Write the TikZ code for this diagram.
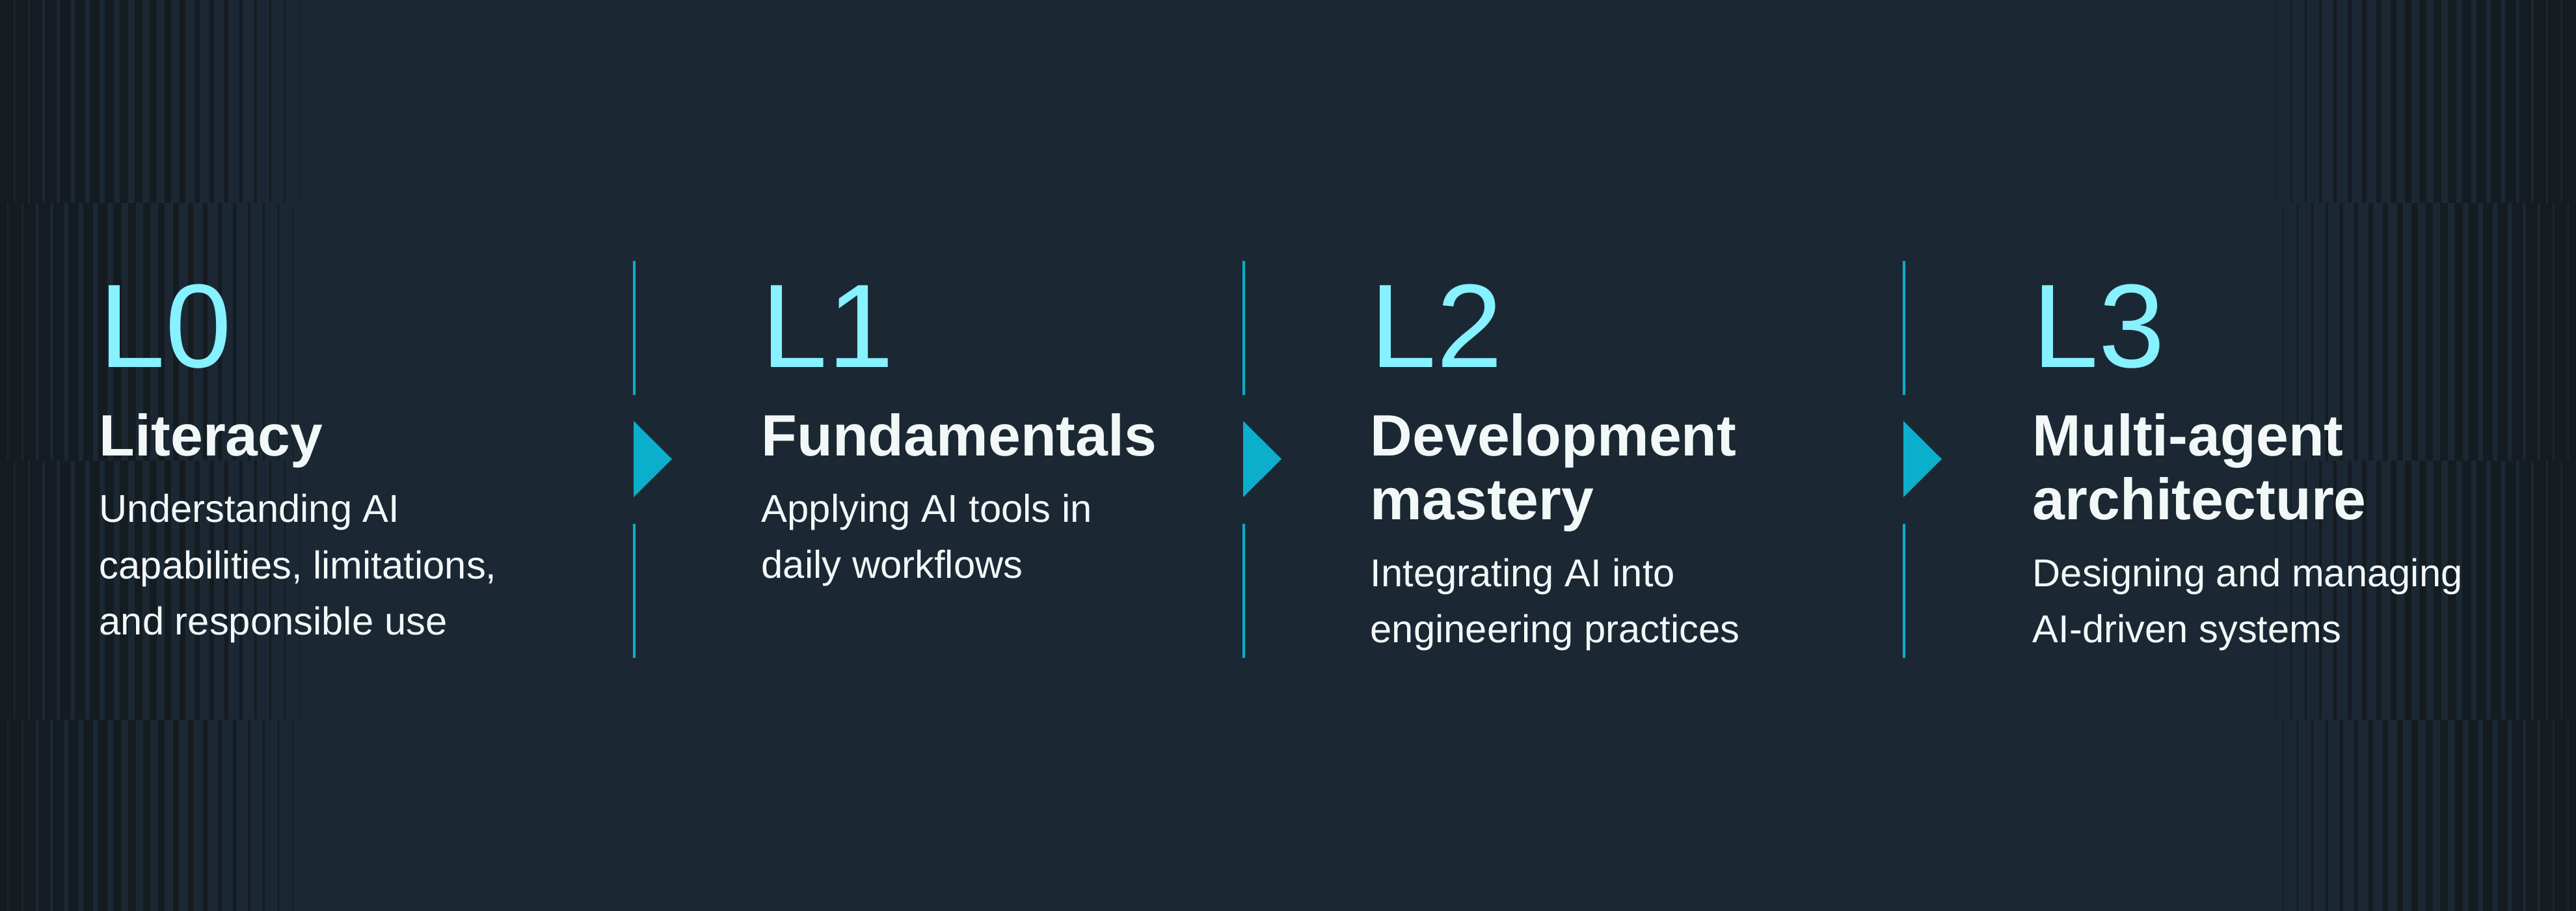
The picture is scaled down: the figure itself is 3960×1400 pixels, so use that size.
\documentclass[tikz,border=0pt]{standalone}
\usepackage{fontspec}
\setmainfont{Liberation Sans}
\usepackage{tikz}
\usetikzlibrary{positioning}
\definecolor{bgnavy}{HTML}{1B2833}
\definecolor{stripedark}{HTML}{141B21}
\definecolor{levelcyan}{HTML}{86F1FF}
\definecolor{pointcyan}{HTML}{0BAECB}
\definecolor{textwhite}{HTML}{F2F8F8}
\tikzset{
  levelnum/.style={anchor=base west, inner sep=0pt, text=levelcyan,
                   font=\fontsize{52}{52}\selectfont},
  leveltitle/.style={anchor=base west, inner sep=0pt, text=textwhite, align=left,
                     font=\fontsize{25.5}{27.9}\selectfont\bfseries},
  leveldesc/.style={anchor=base west, inner sep=0pt, text=textwhite, align=left,
                    font=\fontsize{17}{24.75}\selectfont},
  divider/.style={draw=pointcyan, line width=0.4mm},
  pointer/.style={fill=pointcyan},
}

\begin{document}
\begin{tikzpicture}[x=0.1mm, y=-0.1mm]
\useasboundingbox (0,0) rectangle (3960,1400);
\fill[bgnavy] (0,0) rectangle (3960,1400);
% striped edges, four bands
\foreach \ytop/\ybot/\sh in {0/312/0, 312/708/-10, 708/1106/0, 1106/1400/-10} {
  \foreach \i in {0,...,20} {
    \fill[stripedark] ({\i*23+\sh},\ytop) rectangle ++({21*(1-\i/21)},{\ybot-\ytop});
    \fill[stripedark] ({3960-\i*23-\sh},\ytop) rectangle ++({-21*(1-\i/21)},{\ybot-\ytop});
  }
}
% dividers with pointers
\foreach \dx in {975,1912,2927} {
  \draw[divider] (\dx,401) -- (\dx,607);
  \draw[divider] (\dx,805) -- (\dx,1011);
  \fill[pointer] (\dx-1,647) -- (\dx+58,705.5) -- (\dx-1,764) -- cycle;
}
% base of a multi-line node = baseline of its last line
\node[levelnum] (l0num) at (152,565) {L0};
\node[leveltitle] (l0title) at (152,701) {Literacy};
\node[leveldesc] (l0desc) at (152,976) {Understanding AI\\capabilities, limitations,\\and responsible use};
\node[levelnum] (l1num) at (1170,565) {L1};
\node[leveltitle] (l1title) at (1170,701) {Fundamentals};
\node[leveldesc] (l1desc) at (1170,889) {Applying AI tools in\\daily workflows};
\node[levelnum] (l2num) at (2106,565) {L2};
\node[leveltitle] (l2title) at (2106,799) {Development\\mastery};
\node[leveldesc] (l2desc) at (2106,988) {Integrating AI into\\engineering practices};
\node[levelnum] (l3num) at (3124,565) {L3};
\node[leveltitle] (l3title) at (3124,799) {Multi-agent\\architecture};
\node[leveldesc] (l3desc) at (3124,988) {Designing and managing\\AI-driven systems};
\end{tikzpicture}
\end{document}
